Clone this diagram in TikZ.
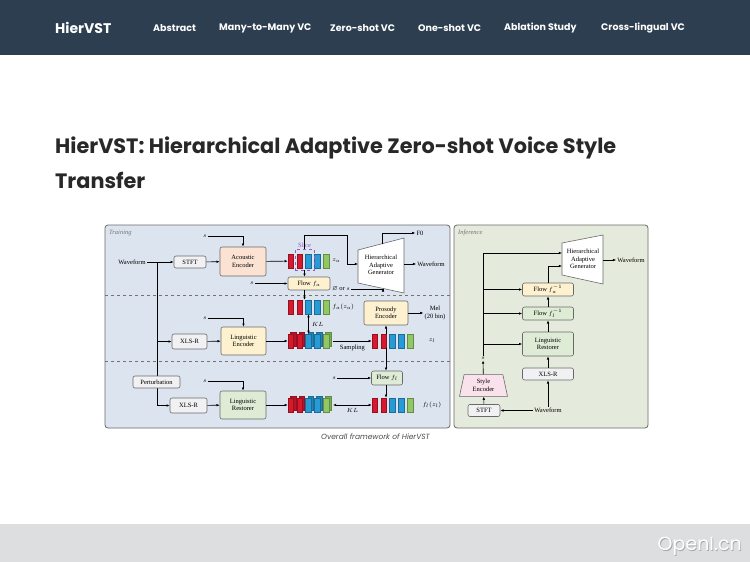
\documentclass[tikz,border=0pt]{standalone}
\usepackage{fontspec}
\usepackage{amssymb}
\setmainfont{Liberation Serif}
\newfontfamily\webfont{Poppins}
\usetikzlibrary{arrows.meta,positioning,calc,shapes.geometric}
\definecolor{navbar}{RGB}{44,62,80}
\definecolor{titletext}{RGB}{40,40,40}
\definecolor{panelblue}{RGB}{220,229,239}
\definecolor{panelgreen}{RGB}{229,235,220}
\definecolor{edgegray}{RGB}{105,105,105}
\definecolor{boxgray}{RGB}{241,241,243}
\definecolor{boxpeach}{RGB}{251,226,211}
\definecolor{boxyellow}{RGB}{253,241,208}
\definecolor{boxgreen}{RGB}{222,236,214}
\definecolor{boxpink}{RGB}{250,226,236}
\definecolor{fred}{RGB}{215,25,45}
\definecolor{fblue}{RGB}{40,155,215}
\definecolor{fgreen}{RGB}{145,200,100}
\definecolor{slicepurple}{RGB}{150,90,200}
\definecolor{footgray}{RGB}{221,222,224}

% feature stack: name, left x, centre y, double (0/1)
\newcommand{\featstack}[4]{%
  \foreach \c [count=\i from 0] in {fred,fred,fblue,fblue,fgreen}{
    \pgfmathsetmacro{\bx}{#2+\i*8.8}
    \ifnum#4=1
      \draw[fill=\c!85!black, draw=\c!70!black, line width=0.3pt] (\bx+2.2,#3-8.5) rectangle ++(5.6,14);
    \fi
    \draw[fill=\c, draw=\c!70!black, line width=0.3pt] (\bx,#3-7) rectangle ++(5.6,14);
  }
  \node[minimum width=41pt, minimum height=14pt, inner sep=0pt] (#1) at (#2+20.5,#3) {};
}

\begin{document}
\begin{tikzpicture}[x=1pt, y=-1pt,
  every node/.style={font=\fontsize{6.5}{7.5}\selectfont, inner sep=1pt},
  box/.style={draw=edgegray, line width=0.6pt, rounded corners=2pt, align=center, inner sep=0pt},
  arr/.style={-{Latex[length=3.2pt,width=2.6pt]}, line width=0.6pt},
  dblarr/.style={{Latex[length=3.2pt,width=2.6pt]}-{Latex[length=3.2pt,width=2.6pt]}, line width=0.6pt},
  menu/.style={font=\webfont\bfseries\fontsize{9.5}{11}\selectfont, text=white, anchor=west, inner sep=0pt},
  panel/.style={draw=edgegray, line width=0.8pt, rounded corners=3pt},
  tag/.style={font=\itshape\fontsize{6.5}{7.5}\selectfont, text=black!55, anchor=west},
  sep/.style={dashed, draw=black!55, line width=0.6pt}
]
\useasboundingbox (0,0) rectangle (750,562);
\fill[white] (0,0) rectangle (750,562);

% navigation bar
\fill[navbar] (0,0) rectangle (750,55);
\node[menu, font=\webfont\bfseries\fontsize{14}{16}\selectfont] (brand) at (55,28) {HierVST};
\node[menu] (m1) at (153,28) {Abstract};
\node[menu] (m2) at (219,28) {Many-to-Many VC};
\node[menu] (m3) at (330,28) {Zero-shot VC};
\node[menu] (m4) at (418,28) {One-shot VC};
\node[menu] (m5) at (504,28) {Ablation Study};
\node[menu] (m6) at (601,28) {Cross-lingual VC};

% title
\node[anchor=west, inner sep=0pt, text=titletext, font=\webfont\bfseries\fontsize{20.8}{24}\selectfont] (title1) at (55,148) {HierVST: Hierarchical Adaptive Zero-shot Voice Style};
\node[anchor=west, inner sep=0pt, text=titletext, font=\webfont\bfseries\fontsize{20.8}{24}\selectfont] (title2) at (55,180) {Transfer};

% panels
\draw[panel, fill=panelblue] (105,225) rectangle (450,428);
\draw[panel, fill=panelgreen] (454,225) rectangle (648,428);
\draw[sep] (105,295) -- (450,295);
\draw[sep] (105,361) -- (450,361);
\node[tag] (train) at (108,233) {Training};
\node[tag] (infer) at (457,233) {Inference};

% ---- training: acoustic branch
\node (wav) at (132,262) {Waveform};
\node[box, fill=boxgray, minimum width=32pt, minimum height=12pt] (stft) at (190,262) {STFT};
\node[box, fill=boxpeach, minimum width=46pt, minimum height=29pt] (ae) at (243,261.5) {Acoustic\\Encoder};
\featstack{za}{288}{261}{0}
\node[right=2pt of za] (zal) {$z_a$};
\node[draw=slicepurple, dashed, line width=0.5pt, minimum width=19pt, minimum height=21pt, inner sep=0pt] (slice) at (304.5,259.5) {};
\node[text=slicepurple, above=0pt of slice] (slicel) {Slice};
\node[box, fill=boxyellow, minimum width=42pt, minimum height=13pt] (flowa) at (309,283.5) {Flow $f_a$};
\node (s1) at (205,236) {$s$};
\node (s2) at (252,283.5) {$s$};

\fill[white, draw=edgegray, line width=0.6pt] (358,250) -- (404,238) -- (404,293) -- (358,283) -- cycle;
\node[align=center] (gen) at (381,265) {Hierarchical\\Adaptive\\Generator};
\coordinate (gin) at (358,264);
\coordinate (gtop) at (382,243.7);
\coordinate (gout) at (404,264);
\coordinate (gbot) at (383,288.4);
\coordinate (zaup) at (347,235);
\node (f0) at (420,233) {F0};
\node (wavout) at (431,264) {Waveform};
\node (phis) at (341,289) {$\varnothing$ or $s$};

\draw[arr] (wav) -- (stft);
\draw[arr] (stft) -- (ae);
\draw[arr] (ae) -- (za);
\draw[arr] (s1) -| (ae);
\draw[arr] (s2) -- (flowa);
\draw[arr] (slice.south) -- (slice.south |- flowa.north);
\draw[arr] (slice.north) |- (zaup) |- (gin);
\draw[arr] (gtop) |- (f0);
\draw[arr] (gout) -- (wavout);
\draw[arr] (phis) -| (gbot);

% ---- training: linguistic branch
\featstack{faza}{288}{307}{0}
\node[right=2pt of faza] (fazal) {$f_a(z_a)$};
\draw[arr] (flowa.south -| slice) -- (faza.north -| slice);
\node[box, fill=boxgray, minimum width=35pt, minimum height=15pt] (xlsr1) at (189.5,341.5) {XLS-R};
\node[box, fill=boxgray, minimum width=37pt, minimum height=15pt] (xlsr2) at (188.5,405.5) {XLS-R};
\node[box, fill=boxyellow, minimum width=45pt, minimum height=28pt] (le) at (243.5,341) {Linguistic\\Encoder};
\featstack{lst}{288}{341}{1}
\featstack{zl}{372}{341}{0}
\node (zll) at (432,341) {$z_l$};
\node[box, fill=boxyellow, minimum width=44pt, minimum height=24pt] (pe) at (386,313) {Prosody\\Encoder};
\node[align=center] (mel) at (435,313) {Mel\\(20 bin)};
\node (s3) at (205,318) {$s$};

\coordinate (tap) at (157,262);
\draw[arr] (tap) |- (xlsr1);
\draw[arr] (tap) |- (xlsr2);
\draw[arr] (xlsr1) -- (le);
\draw[arr] (s3) -| (le);
\draw[arr] (le) -- (lst);
\draw[dblarr] (faza.south) -- (faza.south |- lst.north) node[midway, right=2pt] (kl1) {$KL$};
\draw[arr] (333,341) -- (zl) node[midway, below=3pt] (samp) {Sampling};
\draw[arr] (zl.north -| pe) -- (pe);
\draw[arr] (pe) -- (mel);

% ---- training: restorer branch
\node[box, fill=boxgray, minimum width=47pt, minimum height=12pt] (pert) at (156.5,382) {Perturbation};
\node[box, fill=boxgreen, minimum width=46pt, minimum height=28pt] (lr) at (243,405) {Linguistic\\Restorer};
\featstack{rst}{288}{405}{1}
\node[box, fill=boxgreen, minimum width=31pt, minimum height=14pt] (flowl) at (387,378) {Flow $f_l$};
\featstack{flz}{372}{405}{0}
\node (flzl) at (432,405) {$f_l(z_l)$};
\node (s4) at (334,378) {$s$};
\node (s5) at (205,381) {$s$};

\draw[arr] (xlsr2) -- (lr);
\draw[arr] (s5) -| (lr);
\draw[arr] (lr) -- (rst);
\draw[arr] (s4) -- (flowl);
\draw[arr] (zl.south -| pe) -- (flowl.north -| pe);
\draw[arr] (flowl.south -| pe) -- (flz.north -| pe);
\draw[dblarr] (333,405) -- (flz) node[midway, below=2pt] (kl2) {$KL$};

% ---- inference
\fill[white, draw=edgegray, line width=0.6pt] (562,243) -- (603,235) -- (603,284) -- (562,275) -- cycle;
\node[align=center] (gen2) at (583,259) {Hierarchical\\Adaptive\\Generator};
\coordinate (g2in) at (562,253);
\coordinate (g2in2) at (562,266);
\coordinate (g2out) at (603,260);
\node (wavout2) at (631,260) {Waveform};
\node[box, fill=boxyellow, minimum width=51pt, minimum height=13pt] (flowai) at (548,289.5) {Flow $f_a^{-1}$};
\node[box, fill=boxgreen, minimum width=51pt, minimum height=13pt] (flowli) at (548,313.5) {Flow $f_l^{-1}$};
\node[box, fill=boxgreen, minimum width=51pt, minimum height=24pt] (lri) at (548,344) {Linguistic\\Restorer};
\node[box, fill=boxgray, minimum width=51pt, minimum height=12pt] (xlsri) at (548,374) {XLS-R};
\node (wavi) at (548,410.5) {Waveform};
\node[box, fill=boxgray, minimum width=32pt, minimum height=12pt] (stfti) at (484,410.5) {STFT};
\node[trapezium, trapezium left angle=78, trapezium right angle=78, draw=edgegray, line width=0.6pt, fill=boxpink, align=center, minimum width=48pt, minimum height=17pt, inner sep=0pt] (sei) at (483.5,385.5) {Style\\Encoder};
\node (si) at (483,358) {$s$};

\draw[arr] (wavi) -- (xlsri);
\draw[arr] (wavi) -- (stfti);
\draw[arr] (stfti) -- (sei);
\draw[arr] (sei) -- (si);
\draw[arr] (si) |- (g2in);
\draw[arr] (si |- flowai) -- (flowai);
\draw[arr] (si |- flowli) -- (flowli);
\draw[arr] (si |- lri) -- (lri);
\draw[arr] (xlsri) -- (lri);
\draw[arr] (lri) -- (flowli);
\draw[arr] (flowli) -- (flowai);
\draw[arr] (flowai.north) |- (g2in2);
\draw[arr] (g2out) -- (wavout2);

% caption
\node[font=\webfont\itshape\fontsize{7.5}{9}\selectfont, text=black!70] (cap) at (375.5,437) {Overall framework of HierVST};

% footer
\fill[footgray] (0,524) rectangle (750,562);
\node[anchor=east, inner sep=0pt, text=black!35, font=\webfont\fontsize{19}{22}\selectfont] (wm0) at (742.8,546.8) {OpenI.cn};
\node[anchor=east, inner sep=0pt, text=white, font=\webfont\fontsize{19}{22}\selectfont] (wm) at (742,546) {OpenI.cn};
\end{tikzpicture}
\end{document}
